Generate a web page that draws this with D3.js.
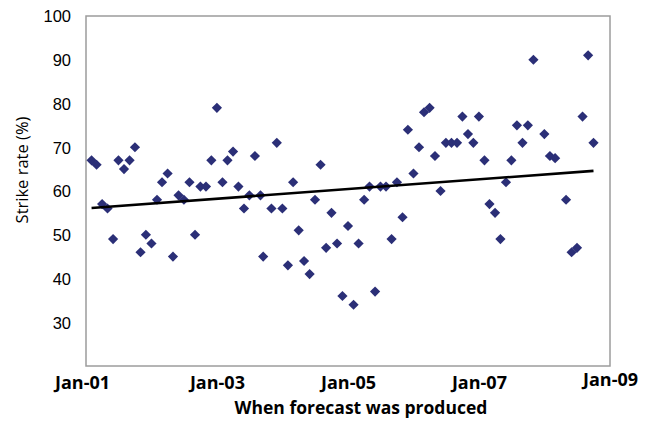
<!DOCTYPE html>
<html>
<head>
<meta charset="utf-8">
<script src="https://cdn.jsdelivr.net/npm/d3@7"></script>
<style>
  body { margin: 0; background: #fff; }
  #chart text { fill: #000; }
</style>
</head>
<body>
<div id="chart"></div>
<script>
// forecast dates (one per point) and the strike rate read for each
const forecastDates = [
  "2001-02-01","2001-03-01","2001-04-01","2001-05-01","2001-06-01","2001-07-01","2001-08-01","2001-09-01","2001-10-01","2001-11-01","2001-12-01",
  "2002-01-01","2002-02-01","2002-03-01","2002-04-01","2002-05-01","2002-06-01","2002-07-01","2002-08-01","2002-09-01","2002-10-01","2002-11-01","2002-12-01",
  "2003-01-01","2003-02-01","2003-03-01","2003-04-01","2003-05-01","2003-06-01","2003-07-01","2003-08-01","2003-09-01","2003-09-16","2003-11-01","2003-12-01",
  "2004-01-01","2004-02-01","2004-03-01","2004-04-01","2004-05-01","2004-06-01","2004-07-01","2004-08-01","2004-09-01","2004-10-01","2004-11-01","2004-12-01",
  "2005-01-01","2005-02-01","2005-03-01","2005-04-01","2005-05-01","2005-06-01","2005-07-01","2005-08-01","2005-09-01","2005-10-01","2005-11-01","2005-12-01",
  "2006-01-01","2006-02-01","2006-03-01","2006-04-01","2006-05-01","2006-06-01","2006-07-01","2006-08-01","2006-09-01","2006-10-01","2006-11-01","2006-12-01",
  "2007-01-01","2007-02-01","2007-03-01","2007-04-01","2007-05-01","2007-06-01","2007-07-01","2007-08-01","2007-09-01","2007-10-01","2007-11-01",
  "2008-01-01","2008-02-01","2008-03-01","2008-05-01","2008-06-01","2008-07-01","2008-08-01","2008-09-01","2008-10-01"
];
const strikeRates = [
  67,66,57,56,49,67,65,67,70,46,50,
  48,58,62,64,45,59,58,62,50,61,61,67,
  79,62,67,69,61,56,59,68,59,45,56,71,
  56,43,62,51,44,41,58,66,47,55,48,36,
  52,34,48,58,61,37,61,61,49,62,54,74,
  64,70,78,79,68,60,71,71,71,77,73,71,
  77,67,57,55,49,62,67,75,71,75,90,
  73,68,67.5,58,46,47,77,91,71
];
// linear trend line end points
const trendDates = ["2001-02-01", "2008-10-01"];
const trendRates = [56.1, 64.6];

const xTicks = ["2001-01-01","2003-01-01","2005-01-01","2007-01-01","2009-01-01"];
const yTicks = [30, 40, 50, 60, 70, 80, 90, 100];

(function() {
  const parse = d3.timeParse("%Y-%m-%d");
  let dim = {"width": 654, "height": 424};
  let plot = {left: 86, right: 610, top: 16, bottom: 366};

  let svg = d3.select('#chart').append('svg')
    .attr('width', dim.width).attr('height', dim.height);

  let scaleX = d3.scaleTime()
    .domain([parse("2001-01-01"), parse("2009-01-01")])
    .range([plot.left, plot.right]);

  let scaleY = d3.scaleLinear()
    .domain([20, 100])
    .range([plot.bottom, plot.top]);

  // plot frame
  svg.append('rect')
    .attr('x', plot.left).attr('y', plot.top)
    .attr('width', plot.right - plot.left).attr('height', plot.bottom - plot.top)
    .attr('fill', '#fff').attr('stroke', '#9c9c9c').attr('stroke-width', 1.5);

  let axisY = d3.axisLeft(scaleY).tickValues(yTicks).tickSize(0).tickPadding(15);
  let gy = svg.append('g').attr('transform', `translate(${plot.left},0)`).call(axisY);
  gy.select('.domain').remove();
  gy.selectAll('text')
    .attr('font-family', 'Liberation Sans, Arial, sans-serif')
    .attr('font-size', 16.5).attr('dy', '0.36em');

  let axisX = d3.axisBottom(scaleX)
    .tickValues(xTicks.map(parse))
    .tickFormat(d3.timeFormat("%b-%y"))
    .tickSize(0).tickPadding(10);
  let gx = svg.append('g').attr('transform', `translate(0,${plot.bottom})`).call(axisX);
  gx.select('.domain').remove();
  gx.selectAll('text')
    .attr('font-family', 'Open Sans, sans-serif')
    .attr('font-weight', 'bold').attr('font-size', 18);
  gx.selectAll('.tick').filter((d, i) => i === 0).select('text').attr('dx', -4);
  gx.selectAll('.tick').filter((d, i) => i === xTicks.length - 1).select('text').attr('y', 7.5);

  // points
  let points = forecastDates.map((d, i) => ({date: parse(d), rate: strikeRates[i]}));
  svg.append('g').selectAll('path')
    .data(points)
    .enter()
    .append('path')
    .attr('d', d3.symbol(d3.symbolSquare, 52))
    .attr('transform', d => `translate(${scaleX(d.date)},${scaleY(d.rate)}) rotate(45)`)
    .attr('fill', '#2b2f77');

  // trend
  let line = d3.line().x(d => scaleX(d.date)).y(d => scaleY(d.rate));
  svg.append('path')
    .datum(trendDates.map((d, i) => ({date: parse(d), rate: trendRates[i]})))
    .attr('d', line)
    .attr('fill', 'none').attr('stroke', '#000').attr('stroke-width', 2.6);

  svg.append('text')
    .attr('x', 361).attr('y', 414)
    .attr('text-anchor', 'middle')
    .attr('font-family', 'Open Sans, sans-serif')
    .attr('font-weight', 'bold').attr('font-size', 17.5)
    .text('When forecast was produced');

  svg.append('text')
    .attr('transform', 'translate(28,170) rotate(-90)')
    .attr('text-anchor', 'middle')
    .attr('font-family', 'Open Sans, sans-serif')
    .attr('font-size', 16.5)
    .text('Strike rate (%)');
})();
</script>
</body>
</html>
